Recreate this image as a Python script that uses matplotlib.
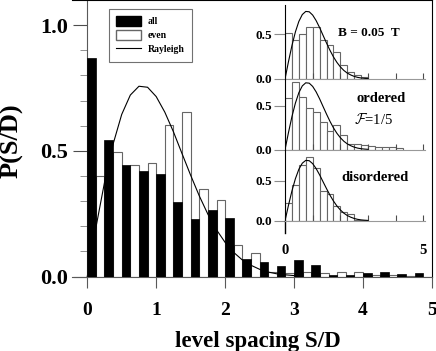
import numpy as np
import matplotlib.pyplot as plt
from matplotlib.patches import Patch
from matplotlib.lines import Line2D

plt.rcParams['font.family'] = ['Liberation Serif', 'DejaVu Serif']
plt.rcParams['font.weight'] = 'bold'
plt.rcParams['mathtext.fontset'] = 'cm'

# main histogram, bins of 0.25: "all" in first half of a bin, "even" in second half
bin_width = 0.25
all_vals = [0.871, 0.542, 0.442, 0.418, 0.407, 0.296, 0.228, 0.263, 0.232, 0.069,
            0.058, 0.044, 0.065, 0.047, 0.006, 0.008, 0.015, 0.020, 0.011, 0.016]
even_vals = [0.402, 0.496, 0.443, 0.451, 0.604, 0.654, 0.350, 0.304, 0.126, 0.093,
             0.020, 0.013, 0.020, 0.016, 0.020, 0.019, 0.008, 0.005, 0.003, 0.000]

# Rayleigh curve
curve_s = [0.0, 0.125, 0.25, 0.375, 0.5, 0.625, 0.75, 0.875, 1.0, 1.125, 1.25, 1.375,
           1.5, 1.625, 1.75, 1.875, 2.0, 2.125, 2.25, 2.375, 2.5, 2.625, 2.75, 2.875, 3.0]
curve_p = [0.0, 0.194, 0.374, 0.527, 0.645, 0.722, 0.757, 0.753, 0.716, 0.654, 0.576,
           0.489, 0.403, 0.321, 0.248, 0.186, 0.136, 0.096, 0.066, 0.045, 0.029, 0.018,
           0.011, 0.007, 0.004]

# inset histograms (bins of 0.25)
b_field = [0.52, 0.44, 0.50, 0.58, 0.58, 0.44, 0.38, 0.30, 0.157, 0.08, 0.045, 0.02]
ordered = [0.58, 0.766, 0.60, 0.47, 0.43, 0.315, 0.21, 0.28, 0.17, 0.07, 0.065, 0.05,
           0.045, 0.03, 0.035, 0.035, 0.02]
disordered = [0.224, 0.45, 0.70, 0.80, 0.667, 0.37, 0.34, 0.19, 0.105, 0.09, 0.01, 0.01]

fig = plt.figure(figsize=(4.36, 3.51), dpi=100)
ax = fig.add_axes([0.165, 0.212, 0.8257, 0.788])

left = np.arange(len(all_vals)) * bin_width
ax.bar(left + bin_width / 2, even_vals, width=bin_width / 2, align='edge',
       color='white', edgecolor='0.4', linewidth=0.8, zorder=1, label='even')
ax.plot(curve_s, curve_p, color='black', linewidth=0.8, zorder=2, label='Rayleigh')
ax.bar(left, all_vals, width=bin_width / 2, align='edge',
       color='black', edgecolor='black', linewidth=0.5, zorder=3, label='all')

ax.set_xlim(-0.222, 5.0)
ax.set_ylim(0, 1.1)
ax.spines['left'].set_position(('data', 0))
for s in ['left', 'bottom']:
    ax.spines[s].set_color('0.35')
ax.set_xticks([0, 1, 2, 3, 4, 5])
ax.set_yticks([0.0, 0.5, 1.0])
ax.set_yticklabels(['0.0', '0.5', '1.0'])
ax.set_yticks(np.arange(0.1, 1.1, 0.1), minor=True)
ax.tick_params(axis='x', direction='out', length=8, color='0.35', pad=10, labelsize=14)
ax.tick_params(axis='y', which='major', direction='out', length=10, color='0.3',
               pad=4, labelsize=16)
ax.tick_params(axis='y', which='minor', direction='out', length=5, color='0.5')
ax.set_xlabel('level spacing S/D', fontsize=16.5, fontweight='bold')
ax.xaxis.set_label_coords(0.517, -0.196)
ax.set_ylabel('P(S/D)', fontsize=19, fontweight='bold')
ax.yaxis.set_label_coords(-0.135, 0.49)

handles = [Patch(facecolor='black', edgecolor='black'),
           Patch(facecolor='white', edgecolor='0.4'),
           Line2D([], [], color='black', linewidth=0.8)]
leg = ax.legend(handles, ['all', 'even', 'Rayleigh'], loc='upper left',
                bbox_to_anchor=(0.102, 0.968), borderaxespad=0, fancybox=False,
                edgecolor='0.3', fontsize=7, handlelength=2.6, handleheight=1.15,
                labelspacing=0.4, borderpad=0.75, handletextpad=0.7)
leg.get_frame().set_linewidth(0.8)

# inset: three stacked panels
panels = [
    (b_field, 0.775, 0.211, 0.83),
    (ordered, 0.5735, 0.2014, 0.80),
    (disordered, 0.371, 0.2023, 0.89),
]
insets = []
for vals, bottom, height, ytop in panels:
    ia = fig.add_axes([0.6537, bottom, 0.3211, height])
    ia.patch.set_alpha(0)
    edges = np.arange(len(vals)) * bin_width
    ia.bar(edges, vals, width=bin_width, align='edge', color='white',
           edgecolor='0.4', linewidth=0.8, zorder=1)
    ia.plot(curve_s, curve_p, color='black', linewidth=0.8, zorder=2)
    ia.set_xlim(0, 5.06)
    ia.set_ylim(0, ytop)
    ia.spines['top'].set_visible(False)
    ia.spines['right'].set_visible(False)
    ia.spines['bottom'].set_color('0.6')
    ia.spines['left'].set_color('black')
    ia.set_yticks([0.0, 0.5])
    ia.set_yticklabels(['0.0', '0.5'])
    ia.set_xticks([1, 2, 3, 4, 5])
    ia.set_xticklabels([])
    ia.tick_params(axis='y', direction='out', length=8, color='0.55', pad=1.5,
                   labelsize=9.5)
    ia.tick_params(axis='x', direction='in', length=4, color='0.3')
    insets.append(ia)

ia = insets[2]
ia.set_xticks([0, 1, 2, 3, 4, 5])
ia.set_xticklabels(['0', '', '', '', '', '5'])
ia.tick_params(axis='x', pad=17, labelsize=10.5)
ia.axvline(0, ymin=-0.17, ymax=0, color='black', linewidth=1, clip_on=False)

insets[0].text(0.60, 0.62, 'B = 0.05  T', transform=insets[0].transAxes,
               ha='center', va='center', fontsize=9.5, fontweight='bold')
insets[1].text(0.686, 0.73, 'ordered', transform=insets[1].transAxes,
               ha='center', va='center', fontsize=10.5, fontweight='bold')
insets[1].text(0.63, 0.433, r'$\mathcal{F}$=1/5', transform=insets[1].transAxes,
               ha='center', va='center', fontsize=10.5, fontweight='normal')
insets[2].text(0.643, 0.615, 'disordered', transform=insets[2].transAxes,
               ha='center', va='center', fontsize=10.5, fontweight='bold')

fig.savefig('out.png', dpi=100)
